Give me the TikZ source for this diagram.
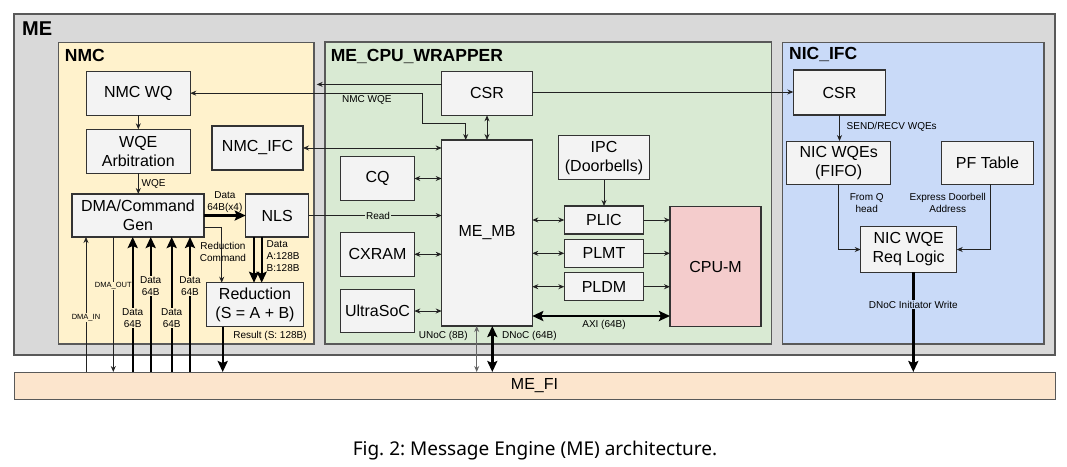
\documentclass[tikz,border=0pt]{standalone}
\usepackage{fontspec}
\setmainfont{Liberation Sans}
\newfontfamily\capfont{Noto Sans}
\usetikzlibrary{arrows.meta}
\definecolor{megray}{HTML}{D9D9D9}
\definecolor{nmcy}{HTML}{FFF2CC}
\definecolor{wrapg}{HTML}{D9EAD3}
\definecolor{nicb}{HTML}{C9DAF8}
\definecolor{boxg}{HTML}{F3F3F3}
\definecolor{cpur}{HTML}{F4CCCC}
\definecolor{fio}{HTML}{FCE5CD}
\definecolor{edge}{HTML}{595959}
\definecolor{wire}{HTML}{222222}
\frenchspacing
\tikzset{
  box/.style={draw=black!80, line width=1.1pt, fill=boxg, inner sep=0pt, outer sep=0pt, align=center, font=\fontsize{16}{19}\selectfont},
  cont/.style={draw=edge, line width=1.1pt},
  ttl/.style={anchor=base west, inner sep=0pt, font=\bfseries\fontsize{17.5}{20}\selectfont},
  ar/.style={draw=wire, line width=0.8pt, -{Stealth[length=6pt,width=5pt]}},
  dar/.style={draw=wire, line width=0.8pt, {Stealth[length=6pt,width=5pt]}-{Stealth[length=6pt,width=5pt]}},
  tar/.style={draw=black, line width=2.4pt, -{Stealth[length=11pt,width=10pt,inset=2pt]}},
  tdar/.style={draw=black, line width=2.4pt, {Stealth[length=11pt,width=10pt,inset=2pt]}-{Stealth[length=11pt,width=10pt,inset=2pt]}},
  lbl/.style={font=\fontsize{10}{12}\selectfont, inner sep=1pt, align=center},
  tiny/.style={font=\fontsize{7.5}{9}\selectfont, inner sep=1pt},
}
\begin{document}
\begin{tikzpicture}[x=1pt,y=-1pt]
\useasboundingbox (0,0) rectangle (1067,466);
% containers
\draw[cont, fill=megray] (14,14) rectangle (1055,355);
\draw[cont, fill=nmcy] (58.7,42.3) rectangle (314,344);
\draw[cont, fill=wrapg] (325,42) rectangle (771.7,344);
\draw[cont, fill=nicb] (782.7,42.7) rectangle (1044,344);
\node[anchor=base west, inner sep=0pt, font=\bfseries\fontsize{20}{24}\selectfont] (tme) at (22,35.7) {ME};
\node[ttl] (tnmc) at (64.7,61) {NMC};
\node[ttl] (twrap) at (330.7,61.7) {ME\_CPU\_WRAPPER};
\node[ttl] (tnic) at (789,59.5) {NIC\_IFC};
\node[box, fill=fio, line width=1pt, draw=edge, minimum width=1041pt, minimum height=27pt] (mefi) at (534.5,385.5) {ME\_FI};
% NMC boxes
\node[box, minimum width=104pt, minimum height=44pt] (nmcwq) at (138.3,93.2) {NMC WQ};
\node[box, minimum width=104pt, minimum height=44pt] (wqearb) at (138.3,151.3) {WQE\\Arbitration};
\node[box, minimum width=91pt, minimum height=44pt] (nmcifc) at (257.5,148) {NMC\_IFC};
\node[box, minimum width=132pt, minimum height=43pt] (dma) at (138,215.5) {DMA/Command\\Gen};
\node[box, minimum width=63pt, minimum height=43pt] (nls) at (277.2,215.5) {NLS};
\node[box, minimum width=96.6pt, minimum height=44pt] (red) at (255,304.7) {Reduction\\(S = A + B)};
% wrapper boxes
\node[box, minimum width=90.6pt, minimum height=44pt] (csr) at (487,93.3) {CSR};
\node[box, minimum width=90.6pt, minimum height=186pt] (memb) at (487,233) {ME\_MB};
\node[box, minimum width=73.6pt, minimum height=43.6pt] (cq) at (377.5,178.5) {CQ};
\node[box, minimum width=73.6pt, minimum height=43.6pt] (cxram) at (377.5,254.3) {CXRAM};
\node[box, minimum width=73.6pt, minimum height=43.6pt] (ultra) at (377.5,311) {UltraSoC};
\node[box, minimum width=90.6pt, minimum height=44pt] (ipc) at (604,157.7) {IPC\\(Doorbells)};
\node[box, minimum width=79.4pt, minimum height=28pt] (plic) at (604,220) {PLIC};
\node[box, minimum width=79.4pt, minimum height=28pt] (plmt) at (604,253.3) {PLMT};
\node[box, minimum width=79.4pt, minimum height=28pt] (pldm) at (604,286.7) {PLDM};
\node[box, fill=cpur, minimum width=91pt, minimum height=120pt] (cpum) at (715.5,266.7) {CPU-M};
% NIC boxes
\node[box, minimum width=92.4pt, minimum height=45pt] (ncsr) at (839.5,92.5) {CSR};
\node[box, minimum width=104pt, minimum height=43.3pt] (nicwqe) at (838.7,162.7) {NIC WQEs\\(FIFO)};
\node[box, minimum width=91.6pt, minimum height=43.3pt] (pft) at (987.5,162.7) {PF Table};
\node[box, minimum width=96pt, minimum height=45.6pt] (reql) at (908.7,249.5) {NIC WQE\\Req Logic};
% NMC connectors
\draw[ar] (nmcwq) -- (wqearb);
\draw[ar] (wqearb.south) -- (wqearb.south |- dma.north) node[midway, right, lbl, xshift=2pt] {WQE};
\draw[tar] (dma.east) -- (nls.west) node[midway, above, lbl, yshift=1pt] {Data\\64B(x4)};
\draw[ar] (204,227.7) -| (red.north -| 221.7,0);
\node[lbl] (lredc) at (223,252) {Reduction\\Command};
\draw[tar] (nls.south -| 254,0) -- (red.north -| 254,0);
\draw[tar] (nls.south -| 261.7,0) -- (red.north -| 261.7,0);
\node[lbl, anchor=north west, align=left] (ldab) at (265.5,239.5) {Data\\A:128B\\B:128B};
\draw[tar] (red.south -| 222.7,0) -- (mefi.north -| 222.7,0);
\node[lbl] (lres) at (270,336) {Result (S: 128B)};
\draw[ar] (mefi.north -| 86,0) -- (dma.south -| 86,0);
\node[tiny, fill=nmcy] (ldin) at (86,317.3) {DMA\_IN};
\draw[ar] (dma.south -| 113.3,0) -- (mefi.north -| 113.3,0);
\node[tiny, fill=nmcy] (ldout) at (113.3,286) {DMA\_OUT};
\foreach \xx/\yy [count=\i] in {132.7/318, 150.7/286, 171.7/318, 190/286}{
  \draw[tar] (mefi.north -| \xx,0) -- (dma.south -| \xx,0);
  \node[lbl, fill=nmcy] (ld\i) at (\xx,\yy) {Data\\64B};
}
% wrapper connectors
\draw[ar] (csr.west |- 0,84.4) -- (316.7,84.4);
\draw[dar] (memb.north -| 465.7,0) |- (422.7,123.3) |- (nmcwq.east);
\node[lbl] (lnwqe) at (366.8,100) {NMC WQE};
\draw[dar] (csr) -- (memb);
\draw[ar] (csr.east |- 0,92) -- (ncsr.west |- 0,92);
\draw[dar] (nmcifc.east) -- (nmcifc.east -| memb.west);
\draw[dar] (cq.east) -- (cq.east -| memb.west);
\draw[ar] (nls.east) -- (nls.east -| memb.west);
\node[lbl, fill=wrapg] (lread) at (378,215.5) {Read};
\draw[dar] (cxram.east) -- (cxram.east -| memb.west);
\draw[dar] (ultra.east) -- (ultra.east -| memb.west);
\draw[dar] (plic.west -| memb.east) -- (plic.west);
\draw[dar] (plmt.west -| memb.east) -- (plmt.west);
\draw[dar] (pldm.west -| memb.east) -- (pldm.west);
\draw[ar] (plic.east) -- (plic.east -| cpum.west);
\draw[ar] (plmt.east) -- (plmt.east -| cpum.west);
\draw[ar] (pldm.east) -- (pldm.east -| cpum.west);
\draw[ar] (ipc) -- (plic);
\draw[tdar] (memb.east |- 0,316) -- (cpum.west |- 0,316);
\node[lbl] (laxi) at (604,325) {AXI (64B)};
\draw[dar, draw=black!60] (memb.south -| 476.7,0) -- (mefi.north -| 476.7,0);
\node[lbl] (lunoc) at (443.3,335.7) {UNoC (8B)};
\draw[tdar] (memb.south -| 492.3,0) -- (mefi.north -| 492.3,0);
\node[lbl, anchor=west] (ldnoc) at (501,335.7) {DNoC (64B)};
% NIC connectors
\draw[ar] (ncsr.south) -- (ncsr.south |- nicwqe.north);
\node[lbl, anchor=west] (lsr) at (845.5,126.7) {SEND/RECV WQEs};
\draw[ar] (nicwqe.south) |- (reql.west);
\draw[ar] (pft.south -| 990.7,0) |- (reql.east);
\node[lbl] (lfq) at (866.7,203) {From Q\\head};
\node[lbl] (led) at (947.7,203) {Express Doorbell\\Address};
\draw[tar] (reql.south -| 913.3,0) -- (mefi.north -| 913.3,0);
\node[lbl, fill=nicb] (ldiw) at (913.3,304.7) {DNoC Initiator Write};
% caption
\node[anchor=base, inner sep=0pt, font=\capfont\fontsize{19}{22}\selectfont] (cap) at (535,455.7) {Fig.\ 2: Message Engine (ME) architecture.};
\end{tikzpicture}
\end{document}
